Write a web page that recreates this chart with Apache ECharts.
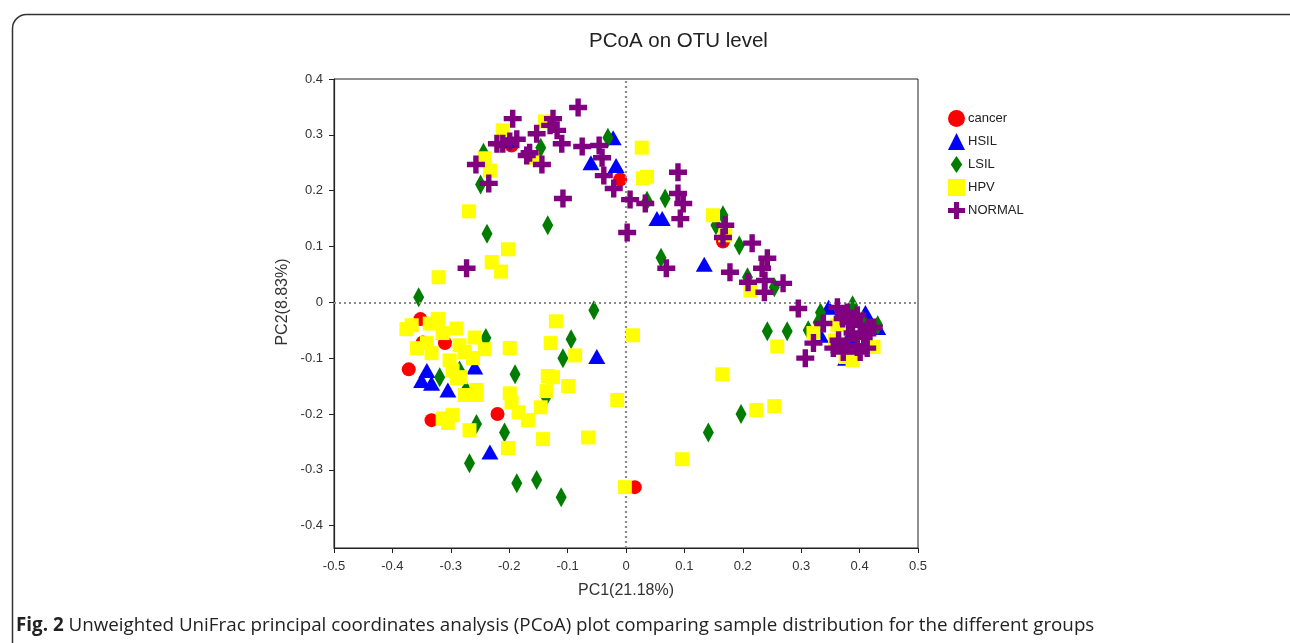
<!DOCTYPE html>
<html>
<head>
<meta charset="utf-8">
<script src="https://cdn.jsdelivr.net/npm/echarts@6/dist/echarts.min.js"></script>
<style>
html,body{margin:0;padding:0;background:#fff;}
#chart{width:1290px;height:643px;}
</style>
</head>
<body>
<div id="chart"></div>
<script>
// ---- data (PC1, PC2) ----
var seriesNames = ['cancer', 'HSIL', 'LSIL', 'HPV', 'NORMAL'];
var xTickLabels = [-0.5, -0.4, -0.3, -0.2, -0.1, 0, 0.1, 0.2, 0.3, 0.4, 0.5];
var yTickLabels = [-0.4, -0.3, -0.2, -0.1, 0, 0.1, 0.2, 0.3, 0.4];

var cancer = [[-0.352,-0.030],[-0.348,-0.072],[-0.310,-0.073],[-0.372,-0.120],[-0.333,-0.211],
  [-0.220,-0.200],[0.015,-0.331],[-0.010,0.220],[0.166,0.109],[-0.196,0.281]];

var HSIL = [[-0.022,0.295],[-0.060,0.250],[-0.017,0.245],[0.053,0.150],[0.062,0.150],[0.134,0.068],
  [-0.050,-0.097],[-0.233,-0.268],[-0.259,-0.116],[-0.341,-0.122],[-0.350,-0.140],[-0.333,-0.145],
  [-0.305,-0.157],[-0.204,0.290],[0.347,-0.009],[0.410,-0.018],[0.333,-0.059],[0.376,-0.100],
  [0.431,-0.045],[0.381,-0.064],[0.364,-0.077]];

var LSIL = [[-0.031,0.295],[-0.146,0.277],[-0.244,0.268],[-0.249,0.211],[-0.134,0.138],[-0.238,0.123],
  [0.036,0.182],[0.067,0.186],[0.060,0.080],[0.166,0.156],[0.154,0.138],[0.194,0.102],[0.208,0.045],
  [0.254,0.027],[-0.355,0.009],[-0.055,-0.014],[-0.240,-0.064],[-0.094,-0.066],[-0.108,-0.100],
  [-0.190,-0.129],[-0.319,-0.134],[-0.285,-0.122],[-0.274,-0.157],[-0.256,-0.218],[-0.208,-0.233],
  [-0.268,-0.288],[-0.187,-0.324],[-0.153,-0.318],[-0.111,-0.349],[-0.137,-0.170],[0.141,-0.233],
  [0.197,-0.200],[0.242,-0.052],[0.276,-0.052],[0.333,-0.018],[0.388,-0.005],[0.312,-0.050],
  [0.431,-0.041],[0.329,-0.036],[0.405,-0.032]];

var HPV = [[-0.211,0.308],[-0.139,0.324],[-0.242,0.258],[-0.233,0.236],[-0.269,0.163],[-0.161,0.259],
  [0.027,0.277],[0.029,0.222],[0.036,0.225],[0.149,0.156],[0.170,0.120],[0.213,0.021],
  [-0.202,0.095],[-0.230,0.072],[-0.214,0.055],[-0.321,0.045],
  [-0.376,-0.048],[-0.367,-0.041],[-0.336,-0.038],[-0.322,-0.030],[-0.314,-0.055],[-0.290,-0.047],
  [-0.358,-0.082],[-0.341,-0.073],[-0.333,-0.091],[-0.285,-0.077],[-0.259,-0.063],[-0.242,-0.084],
  [-0.276,-0.089],[-0.262,-0.100],[-0.302,-0.104],[-0.297,-0.122],[-0.290,-0.136],[-0.283,-0.134],
  [-0.276,-0.166],[-0.256,-0.166],[-0.256,-0.157],[-0.199,-0.082],[-0.199,-0.163],[-0.196,-0.179],
  [-0.184,-0.197],[-0.168,-0.211],[-0.314,-0.208],[-0.297,-0.202],[-0.305,-0.216],[-0.268,-0.229],
  [-0.120,-0.034],[-0.129,-0.073],[-0.087,-0.095],[-0.134,-0.132],[-0.125,-0.134],[-0.099,-0.150],
  [-0.136,-0.159],[-0.146,-0.188],[-0.142,-0.245],[-0.065,-0.242],[-0.202,-0.261],[-0.015,-0.175],
  [0.012,-0.059],[-0.002,-0.331],
  [0.259,-0.079],[0.165,-0.129],[0.223,-0.193],[0.254,-0.186],[0.096,-0.281],[0.321,-0.055],
  [0.358,-0.068],[0.376,-0.098],[0.388,-0.104],[0.424,-0.080],[0.362,-0.041]];

var NORMAL = [[-0.082,0.349],[-0.194,0.329],[-0.125,0.329],[-0.130,0.317],[-0.118,0.308],[-0.153,0.302],
  [-0.187,0.292],[-0.221,0.284],[-0.211,0.284],[-0.199,0.288],[-0.110,0.284],[-0.075,0.279],
  [-0.046,0.281],[-0.041,0.259],[-0.165,0.268],[-0.170,0.263],[-0.144,0.247],[-0.257,0.247],
  [-0.235,0.213],[-0.038,0.227],[-0.021,0.204],[0.007,0.184],[0.033,0.177],[-0.108,0.186],
  [0.002,0.125],[-0.273,0.061],[0.089,0.233],[0.089,0.195],[0.098,0.177],[0.093,0.150],[0.069,0.061],
  [0.170,0.138],[0.166,0.116],[0.216,0.106],[0.242,0.079],[0.233,0.061],[0.178,0.054],[0.209,0.036],
  [0.269,0.034],[0.238,0.039],[0.237,0.018],
  [0.295,-0.011],[0.338,-0.038],[0.362,-0.009],[0.379,-0.018],[0.396,-0.023],[0.381,-0.036],
  [0.401,-0.041],[0.415,-0.045],[0.388,-0.055],[0.407,-0.063],[0.364,-0.068],[0.379,-0.077],
  [0.355,-0.082],[0.396,-0.080],[0.413,-0.082],[0.424,-0.045],[0.321,-0.073],[0.307,-0.100],
  [0.372,-0.089],[0.401,-0.089],[0.371,-0.029],[0.389,-0.029]];

var seriesData = [cancer, HSIL, LSIL, HPV, NORMAL];

// ---- styles ----
var colors = ['#ff0000', '#0000ff', '#007d00', '#ffff00', '#800080'];
var plusPath = 'path://M35,0H65V35H100V65H65V100H35V65H0V35H35Z';
var diamondPath = 'path://M50,0L100,50L50,100L0,50Z';
var symbols = ['circle', 'triangle', diamondPath, 'rect', plusPath];
var sizes = [14, [17, 15], [11, 20], 14, 18];
var legendIcons = ['circle', 'triangle', 'path://M34,0L68,50L34,100L0,50Z', 'rect', plusPath];

var chart = echarts.init(document.getElementById('chart'), null, {renderer: 'canvas'});
var FONT = '"Liberation Sans", Arial, sans-serif';

var series = [{
  type: 'scatter', name: '_ref', data: [], z: 1, silent: true,
  markLine: {
    silent: true, symbol: 'none', animation: false,
    label: {show: false},
    lineStyle: {type: [2, 3], color: '#8a8a8a', width: 2.2},
    data: [{xAxis: 0}, {yAxis: 0}]
  }
}];
seriesNames.forEach(function (n, i) {
  series.push({
    type: 'scatter', name: n, data: seriesData[i], z: 2 + i,
    symbol: symbols[i], symbolSize: sizes[i], symbolKeepAspect: false,
    itemStyle: {color: colors[i], opacity: 1},
    emphasis: {disabled: true}, animation: false
  });
});

chart.setOption({
  animation: false,
  backgroundColor: '#fff',
  title: {
    text: 'PCoA on OTU level', left: 584, top: 26,
    textStyle: {fontFamily: FONT, fontSize: 20.5, fontWeight: 'normal', color: '#222'}
  },
  legend: {
    orient: 'vertical', left: 943, top: 105, itemWidth: 17, itemHeight: 17, itemGap: 6,
    data: seriesNames.map(function (n, i) { return {name: n, icon: legendIcons[i]}; }),
    textStyle: {fontFamily: FONT, fontSize: 13, color: '#222', padding: [0, 0, 0, -2]}
  },
  grid: {left: 334, right: 372, top: 79, bottom: 95, show: true, borderColor: '#222', borderWidth: 1},
  xAxis: {
    type: 'value', min: -0.5, max: 0.5,
    name: 'PC1(21.18%)', nameLocation: 'middle', nameGap: 35,
    nameTextStyle: {fontFamily: FONT, fontSize: 16, color: '#333'},
    axisLine: {show: true, onZero: false, lineStyle: {color: '#222', width: 1.2}},
    axisTick: {show: true, length: 5, customValues: xTickLabels, lineStyle: {color: '#222'}},
    axisLabel: {customValues: xTickLabels, fontFamily: FONT, fontSize: 13, color: '#333', margin: 12,
      formatter: function (v) { return String(Math.round(v * 10) / 10); }},
    splitLine: {show: false}
  },
  yAxis: {
    type: 'value', min: -0.44, max: 0.4,
    axisLine: {show: true, onZero: false, lineStyle: {color: '#222', width: 1.2}},
    axisTick: {show: true, length: 5, customValues: yTickLabels, lineStyle: {color: '#222'}},
    axisLabel: {customValues: yTickLabels, fontFamily: FONT, fontSize: 13, color: '#333', margin: 11,
      formatter: function (v) { return String(Math.round(v * 10) / 10); }},
    splitLine: {show: false}
  },
  graphic: [
    {type: 'rect', left: 10, top: 12, z: 0, silent: true,
      shape: {width: 1300, height: 660, r: 14},
      style: {fill: 'none', stroke: '#333', lineWidth: 1.5}},
    {type: 'text', x: 283, y: 302, rotation: Math.PI / 2, z: 10, silent: true,
      style: {text: 'PC2(8.83%)', font: '16px "Liberation Sans", Arial, sans-serif', fill: '#333',
        align: 'center', verticalAlign: 'middle'}},
    {type: 'text', left: 16, top: 616, z: 10, silent: true,
      style: {
        text: '{b|Fig. 2} Unweighted UniFrac principal coordinates analysis (PCoA) plot comparing sample distribution for the different groups',
        font: '18.8px "Open Sans", sans-serif', fill: '#222',
        rich: {b: {fontFamily: '"Open Sans", sans-serif', fontSize: 18.8, fontWeight: 'bold', fill: '#222'}}
      }}
  ],
  series: series
});
</script>
</body>
</html>
